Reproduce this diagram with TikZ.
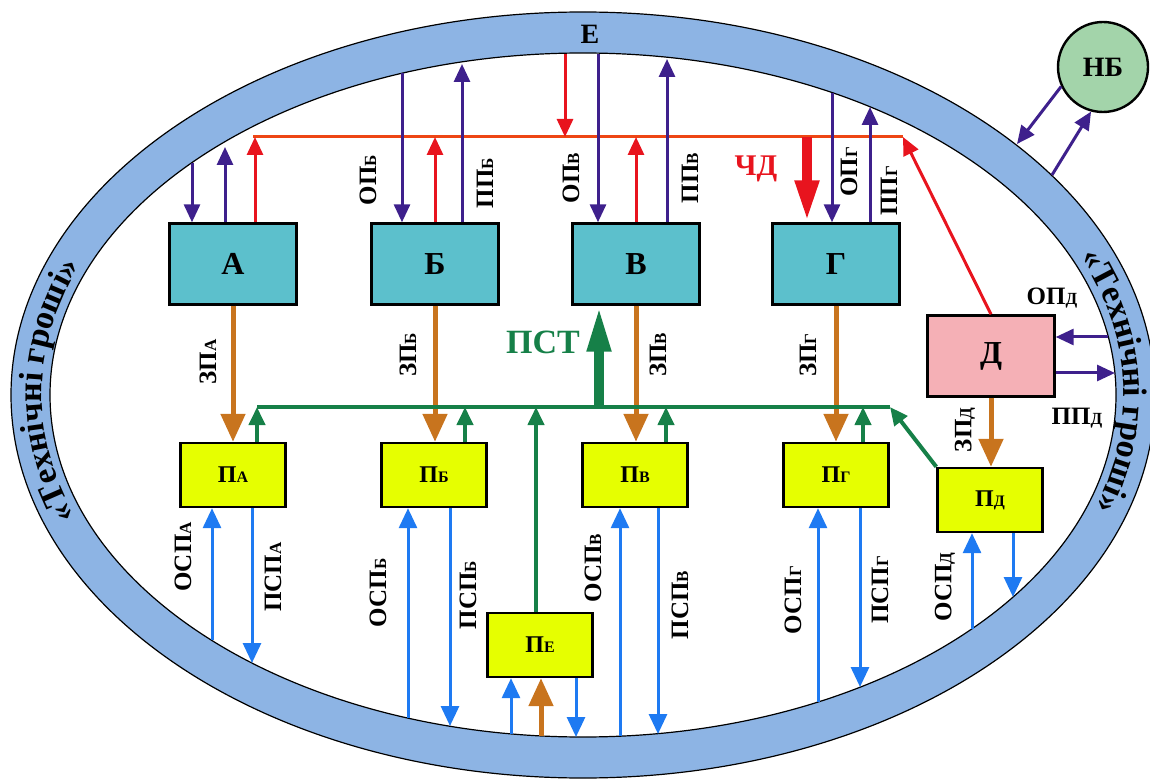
\documentclass[tikz,border=0pt]{standalone}
\usepackage{fontspec}
\setmainfont{Liberation Serif}
\usetikzlibrary{arrows.meta,calc,decorations.text}
\definecolor{ringc}{RGB}{141,180,228}
\definecolor{tealc}{RGB}{92,192,204}
\definecolor{pinkc}{RGB}{245,176,182}
\definecolor{yelc}{RGB}{230,255,0}
\definecolor{nbc}{RGB}{163,212,170}
\definecolor{purc}{RGB}{62,32,140}
\definecolor{redc}{RGB}{232,20,30}
\definecolor{redo}{RGB}{238,70,20}
\definecolor{orc}{RGB}{200,116,30}
\definecolor{grc}{RGB}{22,128,72}
\definecolor{bluc}{RGB}{30,122,242}
\newcommand{\lb}[2]{{\fontsize{12.5}{12.5}\selectfont #1}{\fontsize{8.5}{8.5}\selectfont #2}}
\newcommand{\pbx}[1]{{\fontsize{12}{12}\selectfont П}{\fontsize{8}{8}\selectfont #1}}
\newcommand{\ringfont}{\bfseries\fontsize{17}{17}\selectfont}
\begin{document}
\begin{tikzpicture}[x=0.5pt,y=-0.5pt,
 bigbox/.style={draw=black,line width=1.2pt,minimum width=63.5pt,minimum height=40.5pt,inner sep=0pt,font=\bfseries\fontsize{16}{16}\selectfont},
 tbox/.style={bigbox,fill=tealc},
 dbox/.style={bigbox,fill=pinkc},
 pbox/.style={draw=black,line width=1.2pt,fill=yelc,minimum width=52.5pt,minimum height=32pt,inner sep=0pt,font=\bfseries},
 lab/.style={font=\bfseries,inner sep=0pt},
 vlab/.style={lab,rotate=90},
 purp/.style={draw=purc,line width=1.5pt,-{Triangle[length=9pt,width=8pt]}},
 redarr/.style={draw=redc,line width=1.5pt,-{Triangle[length=9pt,width=8pt]}},
 redline/.style={draw=redo,line width=1.5pt},
 thickred/.style={draw=redc,line width=5pt,-{Triangle[length=21pt,width=11pt]}},
 orarr/.style={draw=orc,line width=2.5pt,-{Triangle[length=14pt,width=12pt]}},
 grarr/.style={draw=grc,line width=2pt,-{Triangle[length=9pt,width=8pt]}},
 grline/.style={draw=grc,line width=2pt},
 thickgr/.style={draw=grc,line width=5pt,-{Triangle[length=23pt,width=11pt]}},
 bluarr/.style={draw=bluc,line width=1.5pt,-{Triangle[length=10pt,width=9pt]}}
]
\useasboundingbox (0,0) rectangle (1150,780);
% ring
\coordinate (C) at (583,395);
\path[fill=ringc,draw=black,line width=0.6pt,even odd rule] (C) ellipse[x radius=286pt,y radius=191.5pt] (C) ellipse[x radius=266.5pt,y radius=171pt];
\path[decorate,decoration={text along path,text align=center,text={|\ringfont|«Технічні гроші»}}]
  ($(C)+(214.4:270.5pt and 175.5pt)$) arc[start angle=214.4,end angle=144.4,x radius=270.5pt,y radius=175.5pt];
\path[decorate,decoration={text along path,text align=center,text={|\ringfont|«Технічні гроші»}}]
  ($(C)+(37:270.5pt and 175.5pt)$) arc[start angle=37,end angle=-33,x radius=270.5pt,y radius=175.5pt];
\node[lab,font=\bfseries\fontsize{14}{14}\selectfont] (Elab) at (590,34) {Е};

% nodes
\node[circle,draw=black,line width=1.2pt,fill=nbc,minimum size=45pt,inner sep=0pt,font=\bfseries\fontsize{14}{14}\selectfont] (NB) at (1103,67) {НБ};
\node[tbox] (A) at (233,264) {А};
\node[tbox] (B) at (435,264) {Б};
\node[tbox] (V) at (636,264) {В};
\node[tbox] (G) at (836,264) {Г};
\node[dbox] (D) at (991,356) {Д};
\node[pbox] (PA) at (233,475) {\pbx{А}};
\node[pbox] (PB) at (434,475) {\pbx{Б}};
\node[pbox] (PV) at (635,475) {\pbx{В}};
\node[pbox] (PG) at (836,475) {\pbx{Г}};
\node[pbox] (PD) at (990,500) {\pbx{Д}};
\node[pbox] (PE) at (540,645) {\pbx{Е}};

% coordinates: ring (top)
\coordinate (rA1) at (192,163);
\coordinate (rA2) at (225,147);
\coordinate (rB1) at (402,73);
\coordinate (rB2) at (462,64);
\coordinate (rE) at (565,54);
\coordinate (rV1) at (598,54);
\coordinate (rV2) at (667,59);
\coordinate (rG1) at (832,93);
\coordinate (rG2) at (870,107);
% red line
\coordinate (redL) at (253,137);
\coordinate (redR) at (903,137);
\coordinate (lA) at (255,137);
\coordinate (lB) at (435,137);
\coordinate (lV) at (636,137);
\coordinate (lG) at (807,137);
% green line
\coordinate (gL) at (257,407);
\coordinate (gR) at (890,407);
\coordinate (gB) at (465,407);
\coordinate (gE) at (536,407);
\coordinate (gS) at (599,407);
\coordinate (gV) at (666,407);
\coordinate (gG) at (863,407);
% ring (bottom)
\coordinate (bA1) at (212,640);
\coordinate (bA2) at (252,663);
\coordinate (bB1) at (408,718);
\coordinate (bB2) at (450,726);
\coordinate (bE1) at (511,734);
\coordinate (bE2) at (541,736);
\coordinate (bE3) at (576,737);
\coordinate (bV1) at (620,736);
\coordinate (bV2) at (658,734);
\coordinate (bG1) at (818,702);
\coordinate (bG2) at (860,687);
\coordinate (bD1) at (972,629);
\coordinate (bD2) at (1013,597);
% ring (right)
\coordinate (rD1) at (1108,337);
\coordinate (rD2) at (1115,373);
\coordinate (nb1) at (1017,144);
\coordinate (nb2) at (1052,175);

% red
\draw[redline] (redL) -- (redR);
\draw[redarr] (A.north -| lA) -- (lA);
\draw[redarr] (B.north -| lB) -- (lB);
\draw[redarr] (V.north -| lV) -- (lV);
\draw[redarr] (rE) -- (rE |- redL);
\draw[redarr] (D.north) -- (redR);
\draw[thickred] (lG) -- (G.north -| lG);
% purple
\draw[purp] (rA1) -- (A.north -| rA1);
\draw[purp] (A.north -| rA2) -- (rA2);
\draw[purp] (rB1) -- (B.north -| rB1);
\draw[purp] (B.north -| rB2) -- (rB2);
\draw[purp] (rV1) -- (V.north -| rV1);
\draw[purp] (V.north -| rV2) -- (rV2);
\draw[purp] (rG1) -- (G.north -| rG1);
\draw[purp] (G.north -| rG2) -- (rG2);
\draw[purp] (rD1) -- (D.east |- rD1);
\draw[purp] (D.east |- rD2) -- (rD2);
\draw[purp] (NB.205) -- (nb1);
\draw[purp] (nb2) -- (NB.255);
% orange
\draw[orarr] (A.south) -- (PA.north);
\draw[orarr] (B.south) -- (B.south |- PB.north);
\draw[orarr] (V.south) -- (V.south |- PV.north);
\draw[orarr] (G.south) -- (G.south |- PG.north);
\draw[orarr] (D.south) -- (D.south |- PD.north);
\draw[orarr] (bE2) -- (PE.south -| bE2);
% green
\draw[grline] (gL) -- (gR);
\draw[grarr] (PA.north -| gL) -- (gL);
\draw[grarr] (PB.north -| gB) -- (gB);
\draw[grarr] (PV.north -| gV) -- (gV);
\draw[grarr] (PG.north -| gG) -- (gG);
\draw[grarr] (PD.north west) -- (gR);
\draw[grarr] (PE.north -| gE) -- (gE);
\draw[thickgr] (gS) -- (V.south -| gS);
% blue
\draw[bluarr] (bA1) -- (PA.south -| bA1);
\draw[bluarr] (PA.south -| bA2) -- (bA2);
\draw[bluarr] (bB1) -- (PB.south -| bB1);
\draw[bluarr] (PB.south -| bB2) -- (bB2);
\draw[bluarr] (bE1) -- (PE.south -| bE1);
\draw[bluarr] (PE.south -| bE3) -- (bE3);
\draw[bluarr] (bV1) -- (PV.south -| bV1);
\draw[bluarr] (PV.south -| bV2) -- (bV2);
\draw[bluarr] (bG1) -- (PG.south -| bG1);
\draw[bluarr] (PG.south -| bG2) -- (bG2);
\draw[bluarr] (bD1) -- (PD.south -| bD1);
\draw[bluarr] (PD.south -| bD2) -- (bD2);

% labels
\node[vlab] (tOPB) at (368,180) {\lb{ОП}{Б}};
\node[vlab] (tPPB) at (485,183) {\lb{ПП}{Б}};
\node[vlab] (tOPV) at (571,178) {\lb{ОП}{В}};
\node[vlab] (tPPV) at (690,178) {\lb{ПП}{В}};
\node[vlab] (tOPG) at (849,172) {\lb{ОП}{Г}};
\node[vlab] (tPPG) at (889,191) {\lb{ПП}{Г}};
\node[lab,text=redc,font=\bfseries\fontsize{15}{15}\selectfont] (tCD) at (756,169) {ЧД};
\node[vlab] (tZPA) at (208,362) {\lb{ЗП}{А}};
\node[vlab] (tZPB) at (408,355) {\lb{ЗП}{Б}};
\node[vlab] (tZPV) at (658,355) {\lb{ЗП}{В}};
\node[vlab] (tZPG) at (808,355) {\lb{ЗП}{Г}};
\node[vlab] (tZPD) at (965,430) {\lb{ЗП}{Д}};
\node[lab,text=grc,font=\bfseries\fontsize{17}{17}\selectfont] (tPST) at (543,342) {ПСТ};
\node[vlab] (tOSPA) at (183,557) {\lb{ОСП}{А}};
\node[vlab] (tPSPA) at (273,577) {\lb{ПСП}{А}};
\node[vlab] (tOSPB) at (378,593) {\lb{ОСП}{Б}};
\node[vlab] (tPSPB) at (468,595) {\lb{ПСП}{Б}};
\node[vlab] (tOSPV) at (593,568) {\lb{ОСП}{В}};
\node[vlab] (tPSPV) at (680,605) {\lb{ПСП}{В}};
\node[vlab] (tOSPG) at (793,600) {\lb{ОСП}{Г}};
\node[vlab] (tPSPG) at (880,590) {\lb{ПСП}{Г}};
\node[vlab] (tOSPD) at (945,587) {\lb{ОСП}{Д}};
\node[lab] (tOPD) at (1052,298) {\lb{ОП}{Д}};
\node[lab] (tPPD) at (1077,418) {\lb{ПП}{Д}};
\end{tikzpicture}
\end{document}
